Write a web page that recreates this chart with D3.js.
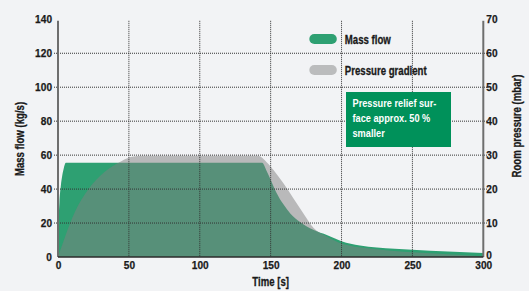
<!DOCTYPE html>
<html>
<head>
<meta charset="utf-8">
<script src="https://cdn.jsdelivr.net/npm/d3@7"></script>
<style>
  body { margin: 0; background: #f2f3f5; }
  svg { display: block; font-family: "Liberation Sans", Arial, sans-serif; }
  .axis text { font-size: 11.5px; font-weight: bold; fill: #1a1a1a; stroke: #1a1a1a; stroke-width: 0.25px; }
  .axis-label { font-size: 12px; font-weight: bold; fill: #1a1a1a; stroke: #1a1a1a; stroke-width: 0.3px; }
  .grid { stroke: #333; stroke-width: 1; stroke-dasharray: 1,1; }
</style>
</head>
<body>
<div class="chart"></div>
<script>
// Data
const massTime = [0, 0.5, 1, 2, 3, 4, 5.5, 144, 147, 150, 154, 159, 164, 171, 180, 190, 200, 213, 225, 250, 275, 300];
const massFlow = [0, 22, 32, 42, 48, 52, 55.5, 55.5, 51, 45.5, 38, 31, 25.5, 20.5, 16, 12.8, 9.3, 6.8, 5.6, 4.3, 3.3, 2.3];

const pressTime = [0, 5, 12, 21, 33, 45, 52, 60, 141, 147, 152, 159, 166, 173, 180, 190, 200, 225, 250, 275, 300];
const pressure = [0, 6, 13.3, 19.7, 25.1, 28.3, 29.5, 29.8, 29.8, 28, 25.6, 21.7, 17.3, 12.9, 8.7, 6, 4.0, 2.3, 1.4, 0.8, 0.2];

const xTicks = [0, 50, 100, 150, 200, 250, 300];
const leftTicks = [0, 20, 40, 60, 80, 100, 120, 140];
const rightTicks = [0, 10, 20, 30, 40, 50, 60, 70];
const legendItems = ["Mass flow", "Pressure gradient"];
const noteLines = ["Pressure relief sur-", "face approx. 50 %", "smaller"];

// Margin convention:
const margin = { top: 19.3, right: 45.7, bottom: 34, left: 58 };
const width = 529 - margin.left - margin.right,
    height = 291 - margin.top - margin.bottom;

const xScale = d3.scaleLinear().domain([0, 300]).range([0, width]);
const yLeft = d3.scaleLinear().domain([0, 140]).range([height, 0]);
const yRight = d3.scaleLinear().domain([0, 70]).range([height, 0]);

const colors = { mass: "#2ea072", press: "#808080" };

// the original uses a condensed face; squeeze the glyphs of Liberation Sans
function condense(sel, k) {
    sel.each(function () {
        const w = this.getComputedTextLength();
        d3.select(this).attr("textLength", w * k).attr("lengthAdjust", "spacingAndGlyphs");
    });
}

const svg = d3
    .select(".chart")
    .append("svg")
    .attr("width", width + margin.left + margin.right)
    .attr("height", height + margin.top + margin.bottom)
    .append("g")
    .attr("transform", "translate(" + margin.left + "," + margin.top + ")");

// Areas
const massData = massTime.map((t, i) => ({ t: t, v: massFlow[i] }));
const pressData = pressTime.map((t, i) => ({ t: t, v: pressure[i] }));

const massArea = d3.area()
    .x((d) => xScale(d.t))
    .y0(height)
    .y1((d) => yLeft(d.v))
    .curve(d3.curveMonotoneX);

const pressArea = d3.area()
    .x((d) => xScale(d.t))
    .y0(height)
    .y1((d) => yRight(d.v))
    .curve(d3.curveMonotoneX);

svg.append("path").datum(massData).attr("d", massArea).attr("fill", colors.mass);
svg.append("path").datum(pressData).attr("d", pressArea)
    .attr("fill", colors.press).attr("fill-opacity", 0.5);

// Grid lines
svg.selectAll(".hgrid")
    .data(leftTicks.filter((d) => d > 0 && d < 140))
    .enter()
    .append("line")
    .attr("class", "grid")
    .attr("x1", -4)
    .attr("x2", width + 4)
    .attr("y1", (d) => yLeft(d))
    .attr("y2", (d) => yLeft(d));

svg.selectAll(".vgrid")
    .data(xTicks.filter((d) => d > 0 && d < 300))
    .enter()
    .append("line")
    .attr("class", "grid")
    .attr("x1", (d) => xScale(d))
    .attr("x2", (d) => xScale(d))
    .attr("y1", yLeft(140) + 1.5)
    .attr("y2", height);

// Axes
const xAxis = d3.axisBottom(xScale).tickValues(xTicks).tickSize(0).tickPadding(4);
const leftAxis = d3.axisLeft(yLeft).tickValues(leftTicks).tickSize(0).tickPadding(6);
const rightAxis = d3.axisRight(yRight).tickValues(rightTicks).tickSize(0).tickPadding(3);

svg.append("g").attr("class", "axis x-axis")
    .attr("transform", `translate(0, ${height})`)
    .call(xAxis)
    .call((g) => g.select(".domain").remove());
svg.append("g").attr("class", "axis y-axis").call(leftAxis)
    .call((g) => g.select(".domain").remove());
svg.append("g").attr("class", "axis y-axis-right")
    .attr("transform", `translate(${width}, 0)`)
    .call(rightAxis)
    .call((g) => g.select(".domain").remove())
    .call((g) => g.selectAll("text").filter((d) => d === 0).attr("dy", "0.1em"));

condense(svg.selectAll(".axis text"), 0.88);

// Axis lines
svg.append("line").attr("x1", 0).attr("x2", 0).attr("y1", yLeft(140) + 1.5).attr("y2", height)
    .attr("stroke", "#6e6e6e").attr("stroke-width", 2);
svg.append("line").attr("x1", width).attr("x2", width).attr("y1", yLeft(140) + 1.5).attr("y2", height)
    .attr("stroke", "#6e6e6e").attr("stroke-width", 2);
svg.append("line").attr("x1", 0).attr("x2", width).attr("y1", height).attr("y2", height)
    .attr("stroke", "#2b2b2b").attr("stroke-width", 1.5);

// Axis titles
svg.append("text")
    .attr("class", "axis-label title")
    .attr("text-anchor", "middle")
    .attr("transform", `translate(${width / 2}, ${height + 29})`)
    .text("Time [s]");

svg.append("text")
    .attr("class", "axis-label title")
    .attr("text-anchor", "middle")
    .attr("transform", `translate(${24 - margin.left}, ${139 - margin.top}) rotate(-90)`)
    .text("Mass flow (kg/s)");

svg.append("text")
    .attr("class", "axis-label title")
    .attr("text-anchor", "middle")
    .attr("transform", `translate(${521 - margin.left}, ${126 - margin.top}) rotate(-90)`)
    .text("Room pressure (mbar)");

condense(svg.selectAll(".title"), 0.8);

// Legend
const legend = svg.selectAll(".legend")
    .data(legendItems)
    .enter()
    .append("g")
    .attr("class", "legend")
    .attr("transform", (d, i) => `translate(${309.3 - margin.left}, ${34 - margin.top + i * 31})`);

legend.append("rect")
    .attr("width", 27.5)
    .attr("height", 10)
    .attr("rx", 5)
    .attr("fill", (d, i) => i === 0 ? colors.mass : "#bbbcbd");

legend.append("text")
    .attr("class", "axis-label")
    .attr("x", 35.5)
    .attr("y", 9.5)
    .style("font-size", "12.5px")
    .text((d) => d)
    .call((s) => condense(s, 0.77));

// Note box
svg.append("rect")
    .attr("x", 346 - margin.left)
    .attr("y", 92 - margin.top)
    .attr("width", 105)
    .attr("height", 55)
    .attr("fill", "#00915a");

svg.selectAll(".note")
    .data(noteLines)
    .enter()
    .append("text")
    .attr("class", "note")
    .attr("x", 352.5 - margin.left)
    .attr("y", (d, i) => 107.5 - margin.top + i * 15)
    .attr("fill", "#ffffff")
    .style("font-size", "11.8px")
    .style("font-weight", "bold")
    .text((d) => d)
    .call((s) => condense(s, 0.78));
</script>
</body>
</html>
